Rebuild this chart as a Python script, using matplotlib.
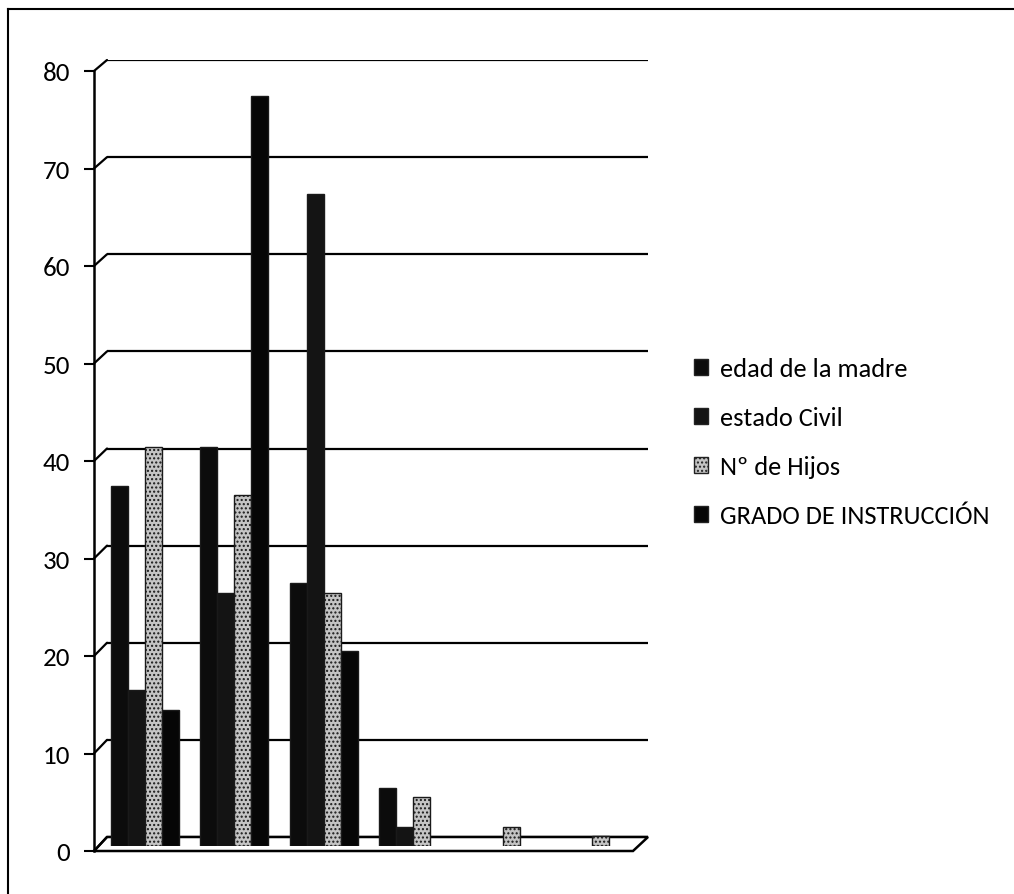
import matplotlib
matplotlib.use("Agg")
import matplotlib.pyplot as plt
from matplotlib import font_manager
from matplotlib.patches import Patch, Polygon, ConnectionPatch
from matplotlib.lines import Line2D
import numpy as np

categories = ["", "", "", "", "", ""]
series_names = ["edad de la madre", "estado Civil", "Nº de Hijos", "GRADO DE INSTRUCCIÓN"]
edad_madre = [37, 41, 27, 6, 0, 0]
estado_civil = [16, 26, 67, 2, 0, 0]
n_hijos = [41, 36, 26, 5, 2, 1]
grado_instruccion = [14, 77, 20, 0, 0, 0]
y_ticks = [0, 10, 20, 30, 40, 50, 60, 70, 80]

series = [edad_madre, estado_civil, n_hijos, grado_instruccion]
colors = ["#0c0c0c", "#141414", "#c4c4c4", "#060606"]

available = {f.name for f in font_manager.fontManager.ttflist}
main_family = "Lato"
for cand in ["Carlito", "Roboto Condensed", "Liberation Sans Narrow"]:
    if cand in available:
        main_family = cand
        break
plt.rcParams['font.family'] = [main_family, 'DejaVu Sans']

W, H = 1014, 895
fig = plt.figure(figsize=(W / 100, H / 100), dpi=100)
fig.patch.set_facecolor("white")
renderer = fig.canvas.get_renderer()


def rect(x0, y_top, x1, y_bot):
    return [x0 / W, 1 - y_bot / H, (x1 - x0) / W, (y_bot - y_top) / H]


# outer frame
fig.add_artist(Line2D([8 / W, 8 / W], [1 - 10 / H, 0], color="black", lw=1.5, transform=fig.transFigure))
fig.add_artist(Line2D([8 / W, 1], [1 - 10 / H, 1 - 10 / H], color="black", lw=1.5, transform=fig.transFigure))

# back wall with gridlines
ax_back = fig.add_axes(rect(107, 61, 648, 838))
ax_back.set_xlim(0, 1)
ax_back.set_ylim(0, 80)
ax_back.set_yticks(y_ticks)
ax_back.set_xticks([])
ax_back.tick_params(left=False, labelleft=False)
ax_back.yaxis.grid(True, color="black", lw=1.6)
for s in ax_back.spines.values():
    s.set_visible(False)
ax_back.patch.set_alpha(0)

# tick label size chosen so "80" is ~27 px wide
probe = fig.text(0, 0, "80", size=20)
tick_size = 20 * 27.5 / probe.get_window_extent(renderer).width
probe.remove()

# front axis with tick labels
ax_front = fig.add_axes(rect(94, 72, 95, 852))
ax_front.set_ylim(0, 80)
ax_front.set_yticks(y_ticks)
ax_front.set_xticks([])
ax_front.tick_params(axis="y", direction="out", length=7, width=1.5, labelsize=tick_size, pad=10)
for k, s in ax_front.spines.items():
    s.set_visible(k == "left")
ax_front.spines["left"].set_linewidth(1.8)
ax_front.patch.set_alpha(0)

# slanted connectors from front ticks to back gridlines
for v in y_ticks:
    con = ConnectionPatch(xyA=(0, v), coordsA=ax_front.transData,
                          xyB=(0, v), coordsB=ax_back.transData,
                          color="black", lw=1.6)
    fig.add_artist(con)

# floor
floor = Polygon([[94 / W, 1 - 852 / H], [633 / W, 1 - 852 / H],
                 [648 / W, 1 - 838 / H], [107 / W, 1 - 838 / H]],
                closed=True, facecolor="white", edgecolor="black", lw=1.8,
                transform=fig.transFigure, zorder=0.5)
fig.add_artist(floor)

# bars
ax = fig.add_axes(rect(100, 68, 637, 847))
ax.set_zorder(5)
ax.set_xlim(-0.5, len(categories) - 0.5)
ax.set_ylim(0, 80)
ax.axis("off")
ax.patch.set_alpha(0)
x = np.arange(len(categories))
bw = 0.19
for i, (vals, c) in enumerate(zip(series, colors)):
    xs = x + (i - 1.5) * bw
    for xi, v in zip(xs, vals):
        if v <= 0:
            continue
        hatch = "...." if i == 2 else None
        ax.bar(xi, v, width=bw, color=c, edgecolor="#1a1a1a", lw=1.0, hatch=hatch, zorder=3)

# legend: size chosen so the longest label is ~270 px wide
probe = fig.text(0, 0, series_names[3], size=20)
legend_size = 20 * 270 / probe.get_window_extent(renderer).width
probe.remove()
fs_px = legend_size * 100 / 72

handles = [Patch(facecolor=c, edgecolor="#222", hatch=("...." if i == 2 else None))
           for i, c in enumerate(colors)]

ax0, ay0 = 680.0, 345.0
lspace = 1.0
leg = None
for _ in range(3):
    if leg is not None:
        leg.remove()
    leg = fig.legend(handles, series_names, loc="upper left",
                     bbox_to_anchor=(ax0 / W, 1 - ay0 / H), frameon=False,
                     prop={"size": legend_size},
                     handlelength=0.55, handleheight=0.55,
                     handletextpad=0.45, labelspacing=lspace)
    fig.canvas.draw()
    texts = leg.get_texts()
    b0 = texts[0].get_window_extent(renderer)
    b3 = texts[3].get_window_extent(renderer)
    c0 = H - (b0.y0 + b0.y1) / 2
    c3 = H - (b3.y0 + b3.y1) / 2
    step = (c3 - c0) / 3
    lspace += (49 - step) / fs_px
    ax0 += 720 - b0.x0
    ay0 += 370 - c0

if leg is not None:
    leg.remove()
leg = fig.legend(handles, series_names, loc="upper left",
                 bbox_to_anchor=(ax0 / W, 1 - ay0 / H), frameon=False,
                 prop={"size": legend_size},
                 handlelength=0.55, handleheight=0.55,
                 handletextpad=0.45, labelspacing=lspace)

fig.savefig("out.png", dpi=100, facecolor="white")
